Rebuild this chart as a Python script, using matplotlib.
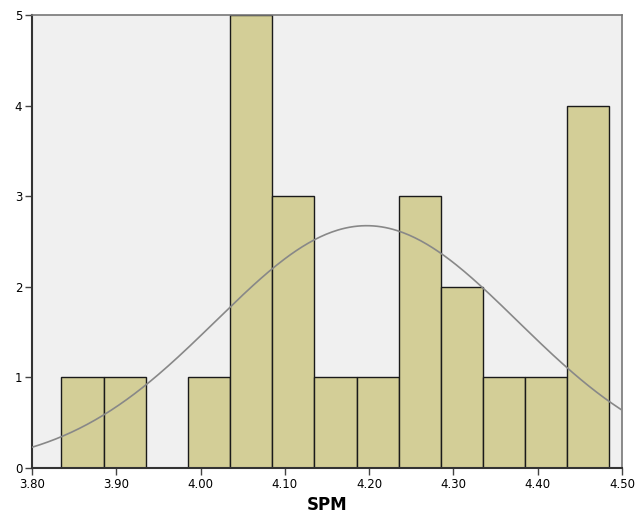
import numpy as np
import matplotlib.pyplot as plt

# histogram bins (left edges) and counts
bin_lefts = [3.835, 3.885, 3.935, 3.985, 4.035, 4.085, 4.135, 4.185, 4.235, 4.285, 4.335, 4.385, 4.435]
counts = [1, 1, 0, 1, 5, 3, 1, 1, 3, 2, 1, 1, 4]
bin_width = 0.05

# normal curve parameters (estimated)
mean = 4.197
sd = 0.179

x_ticks = [3.80, 3.90, 4.00, 4.10, 4.20, 4.30, 4.40, 4.50]
y_ticks = [0, 1, 2, 3, 4, 5]

fig = plt.figure(figsize=(6.37, 5.23), dpi=100)
ax = fig.add_axes([0.0502, 0.1052, 0.9263, 0.8661])
ax.set_facecolor("#f0f0f0")

ax.bar(bin_lefts, counts, width=bin_width, align="edge",
       color="#d3ce97", edgecolor="#1a1a1a", linewidth=1.0, zorder=2)

n = sum(counts)
xs = np.linspace(3.80, 4.50, 300)
ys = n * bin_width / (sd * np.sqrt(2 * np.pi)) * np.exp(-0.5 * ((xs - mean) / sd) ** 2)
ax.plot(xs, ys, color="#888888", linewidth=1.2, zorder=3)

ax.set_xlim(3.80, 4.50)
ax.set_ylim(0, 5)
ax.set_xticks(x_ticks)
ax.set_xticklabels(["%.2f" % t for t in x_ticks])
ax.set_yticks(y_ticks)
ax.tick_params(direction="out", length=5, width=1, color="#444444",
               labelsize=8.5, pad=2)

for side in ["left", "bottom"]:
    ax.spines[side].set_color("#333333")
    ax.spines[side].set_linewidth(1.5)
for side in ["top", "right"]:
    ax.spines[side].set_color("#777777")
    ax.spines[side].set_linewidth(1.2)

ax.set_xlabel("SPM", fontsize=12, fontweight="bold", labelpad=4)

fig.savefig("out.png", dpi=100)
